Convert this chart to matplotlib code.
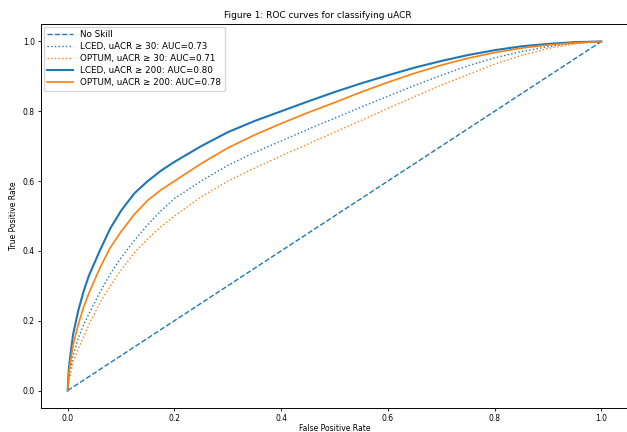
import matplotlib
matplotlib.use('Agg')
import matplotlib.pyplot as plt

# false positive rate grid
fpr = [0, 0.002, 0.005, 0.01, 0.02, 0.03, 0.04, 0.06, 0.08, 0.1, 0.125, 0.15, 0.175,
       0.2, 0.25, 0.3, 0.35, 0.4, 0.45, 0.5, 0.55, 0.6, 0.65, 0.7, 0.75, 0.8, 0.85,
       0.9, 0.95, 1.0]

# true positive rates
lced_30 = [0, 0.035, 0.06, 0.10, 0.15, 0.19, 0.22, 0.28, 0.335, 0.38, 0.43, 0.475, 0.515,
           0.55, 0.60, 0.645, 0.682, 0.715, 0.748, 0.78, 0.812, 0.843, 0.874, 0.903, 0.93,
           0.953, 0.971, 0.985, 0.995, 1.0]
optum_30 = [0, 0.025, 0.045, 0.08, 0.12, 0.155, 0.19, 0.25, 0.30, 0.345, 0.395, 0.435, 0.47,
            0.50, 0.555, 0.60, 0.637, 0.672, 0.706, 0.74, 0.774, 0.808, 0.842, 0.875, 0.905,
            0.935, 0.96, 0.98, 0.993, 1.0]
lced_200 = [0, 0.06, 0.10, 0.16, 0.23, 0.285, 0.33, 0.40, 0.465, 0.515, 0.565, 0.60, 0.63,
            0.655, 0.70, 0.74, 0.772, 0.80, 0.828, 0.855, 0.88, 0.903, 0.925, 0.944, 0.961,
            0.975, 0.986, 0.993, 0.998, 1.0]
optum_200 = [0, 0.05, 0.08, 0.13, 0.19, 0.24, 0.28, 0.35, 0.41, 0.455, 0.505, 0.545, 0.575,
             0.60, 0.65, 0.695, 0.732, 0.765, 0.796, 0.825, 0.855, 0.883, 0.909, 0.932, 0.952,
             0.968, 0.981, 0.99, 0.996, 1.0]

ns = [0, 1]

labels = ['No Skill',
          'LCED, uACR \u2265 30: AUC=0.73',
          'OPTUM, uACR \u2265 30: AUC=0.71',
          'LCED, uACR \u2265 200: AUC=0.80',
          'OPTUM, uACR \u2265 200: AUC=0.78']

fs = 5.5
fig = plt.figure(figsize=(6.27, 4.32), dpi=100)
ax = fig.add_axes([41/627, 24/432, 587/627, 384/432])

ax.plot(ns, ns, linestyle='--', color='#1f77b4', lw=1.0, label=labels[0])
ax.plot(fpr, lced_30, linestyle=':', color='#1f77b4', lw=1.0, label=labels[1])
ax.plot(fpr, optum_30, linestyle=':', color='#ff7f0e', lw=1.0, label=labels[2])
ax.plot(fpr, lced_200, color='#1f77b4', lw=1.5, label=labels[3])
ax.plot(fpr, optum_200, color='#ff7f0e', lw=1.2, label=labels[4])

ax.set_xlim(-0.05, 1.05)
ax.set_ylim(-0.05, 1.05)
ax.tick_params(labelsize=fs, length=2.5, width=0.6, pad=2)
for s in ax.spines.values():
    s.set_linewidth(0.7)
ax.set_xlabel('False Positive Rate', fontsize=fs, labelpad=0.5)
ax.set_ylabel('True Positive Rate', fontsize=fs, labelpad=3)
ax.set_title('Figure 1: ROC curves for classifying uACR', fontsize=6.5,
             x=(318-41)/587, pad=4)
ax.legend(loc='upper left', fontsize=6.3, handlelength=3, borderaxespad=0.3,
          labelspacing=0.35)

fig.savefig('out.png', dpi=100)
